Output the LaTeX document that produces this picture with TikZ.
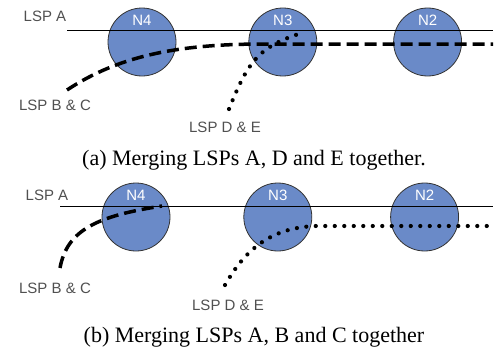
\documentclass[tikz,border=0pt]{standalone}
\usepackage{fontspec}
\setmainfont{Liberation Serif}
\setsansfont{Liberation Sans}
\usetikzlibrary{positioning}
\definecolor{lsrblue}{RGB}{106,138,200}
\definecolor{lspgray}{RGB}{80,80,80}
\tikzset{
x=1pt,
y=-1pt,
lsr/.style={circle, draw=black!80, line width=0.8pt, fill=lsrblue, minimum size=68pt, inner sep=0pt},
lsr name/.style={anchor=north, inner sep=0pt, yshift=-7pt, text=white, font=\sffamily\fontsize{15}{18}\selectfont},
lsp name/.style={text=lspgray, font=\sffamily\fontsize{15}{18}\selectfont},
lsp a/.style={line width=1pt},
lsp dashed/.style={line width=3.5pt, dash pattern=on 12pt off 6pt},
lsp dotted/.style={line width=4.2pt, line cap=round, dash pattern=on 0pt off 9.5pt},
subcaption/.style={font=\fontsize{22}{26}\selectfont},
}

\begin{document}
\begin{tikzpicture}
    \useasboundingbox (0,0) rectangle (497,348);

    % (a) merging A, D and E
    \node[lsr, label={[lsr name]north:N4}] (N4a) at (142,42) {};
    \node[lsr, label={[lsr name]north:N3}, right=72pt of N4a] (N3a) {};
    \node[lsr, label={[lsr name]north:N2}, right=76pt of N3a] (N2a) {};

    \node[lsp name] (lblAa) at (45,16) {LSP A};
    \node[lsp name] (lblBCa) at (55,105) {LSP B \& C};
    \node[lsp name] (lblDEa) at (225,127) {LSP D \& E};

    \coordinate (Aa0) at (67,30);
    \coordinate (Aa1) at (493,30);
    \coordinate (BCa0) at (67,90);
    \coordinate (BCa1) at (493,44);
    \coordinate (DEa0) at (229,109);
    \coordinate (DEa1) at (305,32);

    \draw[lsp a] (Aa0) -- (Aa1);
    \draw[lsp dashed] (BCa0) .. controls (120,55) and (180,44) .. (265,44) -- (BCa1);
    \draw[lsp dotted] (DEa0) .. controls (248,62) and (258,46) .. (DEa1);

    \node[subcaption] (capa) at (254,160) {(a) Merging LSPs A, D and E together.};

    % (b) merging A, B and C
    \node[lsr, label={[lsr name]north:N4}] (N4b) at (136,217) {};
    \node[lsr, label={[lsr name]north:N3}, right=73pt of N4b] (N3b) {};
    \node[lsr, label={[lsr name]north:N2}, right=78pt of N3b] (N2b) {};

    \node[lsp name] (lblAb) at (47,195) {LSP A};
    \node[lsp name] (lblBCb) at (55,288) {LSP B \& C};
    \node[lsp name] (lblDEb) at (228,305) {LSP D \& E};

    \coordinate (Ab0) at (60,206);
    \coordinate (Ab1) at (493,206);
    \coordinate (BCb0) at (60,268);
    \coordinate (BCb1) at (162,206);
    \coordinate (DEb0) at (225,285);
    \coordinate (DEb1) at (493,226);

    \draw[lsp a] (Ab0) -- (Ab1);
    \draw[lsp dashed] (BCb0) .. controls (67,230) and (97,216) .. (BCb1);
    \draw[lsp dotted] (DEb0) .. controls (245,250) and (270,228) .. (315,226) -- (DEb1);

    \node[subcaption] (capb) at (254,337) {(b) Merging LSPs A, B and C together};
\end{tikzpicture}
\end{document}
